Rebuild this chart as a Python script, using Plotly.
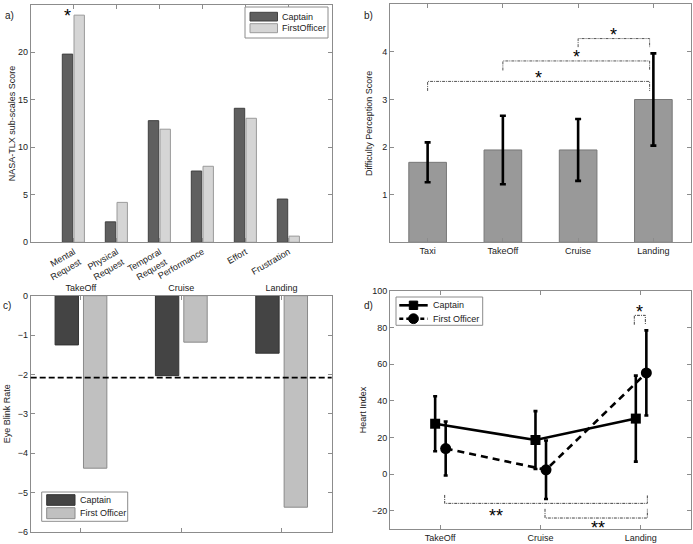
import plotly.graph_objects as go

W, H = 693, 544

# ---------------- data ----------------
series_names_a = ["Captain", "FirstOfficer"]
series_names = ["Captain", "First Officer"]

# a) NASA-TLX sub-scales
tlx_labels = ["Mental<br>Request", "Physical<br>Request", "Temporal<br>Request",
              "Performance", "Effort", "Frustration"]
tlx_captain = [19.8, 2.15, 12.8, 7.5, 14.1, 4.55]
tlx_fo = [23.9, 4.2, 11.9, 8.0, 13.05, 0.65]
tlx_star_level = 24.15

# b) Difficulty perception
phases_b = ["Taxi", "TakeOff", "Cruise", "Landing"]
difficulty_mean = [1.68, 1.94, 1.94, 3.0]
difficulty_sd = [0.42, 0.72, 0.65, 0.97]
# (from, to, bracket level, tip level, label)
b_sig = [("Taxi", "Landing", 3.38, 3.18, "*"),
         ("TakeOff", "Landing", 3.81, 3.61, "*"),
         ("Cruise", "Landing", 4.28, 4.10, "*")]

# c) Eye blink rate
phases = ["TakeOff", "Cruise", "Landing"]
blink_captain = [-1.25, -2.03, -1.46]
blink_fo = [-4.38, -1.18, -5.37]
blink_threshold = -2.08

# d) Heart index
heart_captain = [27.5, 18.6, 30.3]
heart_captain_err = [15.0, 15.8, 23.5]
heart_fo = [13.95, 2.35, 55.25]
heart_fo_err = [14.75, 15.95, 23.25]
# (from, to, bracket level, tip level, label, label x, label y)
d_sig = [("TakeOff", "Landing", -16, -11.4, "**", 1.56, -21),
         ("Cruise", "Landing", -24, -19, "**", 2.57, -27.3),
         ("Landing", "Landing", 86.7, 81.6, "*", 2.99, 90.3)]

# ---------------- style ----------------
FONT = "Liberation Sans, Arial, Helvetica, sans-serif"
AX = "#8c8c8c"
TXT = "#222222"
CAP_A, FO_A = "#5f5f5f", "#d5d5d5"
CAP_A_EDGE, FO_A_EDGE = "#404040", "#9a9a9a"
CAP_C, FO_C = "#444444", "#c0c0c0"
CAP_C_EDGE, FO_C_EDGE = "#333333", "#8a8a8a"
SIG_DASH = "3px,1px,1px,1px"
STAR_FONT = dict(size=18, color="black", family=FONT)
STAR_CENTER_SHIFT = -15.5   # glyph centre of '*' relative to a bottom-anchored box


def px_x(v):
    return v / W


def px_y(v):
    return 1 - v / H


fig = go.Figure()
annotations = []
shapes = []

# ---- a) ----
xa = list(range(1, len(tlx_labels) + 1))
fig.add_trace(go.Bar(x=xa, y=tlx_captain, name=series_names_a[0], offset=-0.265, width=0.242,
                     marker=dict(color=CAP_A, line=dict(color=CAP_A_EDGE, width=1)),
                     xaxis="x", yaxis="y", showlegend=False))
fig.add_trace(go.Bar(x=xa, y=tlx_fo, name=series_names_a[1], offset=0.007, width=0.242,
                     marker=dict(color=FO_A, line=dict(color=FO_A_EDGE, width=1)),
                     xaxis="x", yaxis="y", showlegend=False))
annotations.append(dict(x=1 - 0.144, y=tlx_star_level, xref="x", yref="y", text="*",
                        showarrow=False, yanchor="bottom", yshift=STAR_CENTER_SHIFT,
                        font=STAR_FONT))

# ---- b) ----
xb = list(range(1, len(phases_b) + 1))
fig.add_trace(go.Bar(x=xb, y=difficulty_mean, width=0.5, showlegend=False,
                     marker=dict(color="#999999", line=dict(color="#777777", width=1)),
                     error_y=dict(type="data", array=difficulty_sd, color="black",
                                  thickness=2.6, width=3),
                     xaxis="x2", yaxis="y2"))
for f, t, lvl, tip, lab in b_sig:
    x1 = phases_b.index(f) + 1
    x2 = phases_b.index(t) + 1 - 0.05
    fig.add_trace(go.Scatter(x=[x1, x1, x2, x2], y=[tip, lvl, lvl, tip], mode="lines",
                             line=dict(color="#555555", width=1, dash=SIG_DASH),
                             showlegend=False, hoverinfo="skip", xaxis="x2", yaxis="y2"))
    annotations.append(dict(x=(x1 + x2) / 2, y=lvl, xref="x2", yref="y2", text=lab,
                            showarrow=False, yanchor="bottom", yshift=STAR_CENTER_SHIFT + 7,
                            font=STAR_FONT))

# ---- c) ----
xc = list(range(1, len(phases) + 1))
fig.add_trace(go.Bar(x=xc, y=blink_captain, name=series_names[0], offset=-0.257, width=0.233,
                     marker=dict(color=CAP_C, line=dict(color=CAP_C_EDGE, width=1)),
                     xaxis="x3", yaxis="y3", showlegend=False))
fig.add_trace(go.Bar(x=xc, y=blink_fo, name=series_names[1], offset=0.026, width=0.233,
                     marker=dict(color=FO_C, line=dict(color=FO_C_EDGE, width=1)),
                     xaxis="x3", yaxis="y3", showlegend=False))
shapes.append(dict(type="line", xref="x3 domain", yref="y3", x0=0, x1=1,
                   y0=blink_threshold, y1=blink_threshold,
                   line=dict(color="black", width=1.8, dash="6px,3px")))

# ---- d) ----
xd = list(range(1, len(phases) + 1))
fig.add_trace(go.Scatter(x=[v - 0.05 for v in xd], y=heart_captain, name=series_names[0],
                         mode="lines+markers",
                         line=dict(color="black", width=2.6),
                         marker=dict(symbol="square", size=10, color="black"),
                         error_y=dict(type="data", array=heart_captain_err, color="black",
                                      thickness=2.6, width=2),
                         xaxis="x4", yaxis="y4", showlegend=False))
fig.add_trace(go.Scatter(x=[v + 0.055 for v in xd], y=heart_fo, name=series_names[1],
                         mode="lines+markers",
                         line=dict(color="black", width=2.6, dash="7px,5px"),
                         marker=dict(symbol="circle", size=11, color="black"),
                         error_y=dict(type="data", array=heart_fo_err, color="black",
                                      thickness=2.6, width=2),
                         xaxis="x4", yaxis="y4", showlegend=False))
for f, t, lvl, tip, lab, sx, sy in d_sig:
    if f == t:
        x1 = phases.index(f) + 1 - 0.065
        x2 = phases.index(t) + 1 + 0.045
    else:
        x1 = phases.index(f) + 1 + 0.045
        x2 = phases.index(t) + 1 + 0.065
    fig.add_trace(go.Scatter(x=[x1, x1, x2, x2], y=[tip, lvl, lvl, tip], mode="lines",
                             line=dict(color="#444444", width=1, dash=SIG_DASH),
                             showlegend=False, hoverinfo="skip", xaxis="x4", yaxis="y4"))
    annotations.append(dict(x=sx, y=sy, xref="x4", yref="y4", text=lab, showarrow=False,
                            yanchor="bottom", yshift=STAR_CENTER_SHIFT, font=STAR_FONT))

# panel letters
for lab, xp, yp in [("a)", 3, 15), ("b)", 362, 15), ("c)", 1, 305), ("d)", 362, 305)]:
    annotations.append(dict(x=px_x(xp), y=px_y(yp), xref="paper", yref="paper", text=lab,
                            showarrow=False, xanchor="left", yanchor="middle",
                            font=dict(size=10, color=TXT, family=FONT)))


# ---- legends (drawn as boxes, swatches and text, in pixels of the page) ----
def legend_box(x0, y0, x1, y1):
    shapes.append(dict(type="rect", xref="paper", yref="paper",
                       x0=px_x(x0), x1=px_x(x1), y0=px_y(y1), y1=px_y(y0),
                       fillcolor="white", line=dict(color=AX, width=1), layer="above"))


def legend_text(x, y, text):
    annotations.append(dict(x=px_x(x), y=px_y(y), xref="paper", yref="paper", text=text,
                            showarrow=False, xanchor="left", yanchor="middle",
                            font=dict(size=9, color=TXT, family=FONT)))


def legend_swatch(x0, y0, x1, y1, fill, edge):
    shapes.append(dict(type="rect", xref="paper", yref="paper",
                       x0=px_x(x0), x1=px_x(x1), y0=px_y(y1), y1=px_y(y0),
                       fillcolor=fill, line=dict(color=edge, width=1), layer="above"))


# legend a
legend_box(245, 7, 328, 38)
legend_swatch(250, 12.3, 277.5, 21, CAP_A, CAP_A_EDGE)
legend_swatch(250, 23.7, 277.5, 32.7, FO_A, FO_A_EDGE)
legend_text(279.5, 16.8, series_names_a[0])
legend_text(279.5, 28.4, series_names_a[1])

# legend c
legend_box(41.7, 492, 127.7, 521.3)
legend_swatch(46.7, 494.7, 75, 505.3, CAP_C, CAP_C_EDGE)
legend_swatch(46.7, 507.7, 75, 518.7, FO_C, FO_C_EDGE)
legend_text(78.3, 500.3, series_names[0])
legend_text(78.3, 512.9, series_names[1])

# legend d
legend_box(396, 297, 482.7, 325.3)
for row_y, dash, symbol in [(305.3, "solid", "square"), (318.7, "4px,3px", "circle")]:
    shapes.append(dict(type="line", xref="paper", yref="paper",
                       x0=px_x(399.3), x1=px_x(427.7), y0=px_y(row_y), y1=px_y(row_y),
                       line=dict(color="black", width=2.6, dash=dash), layer="above"))
    half = 4.2 if symbol == "square" else 4.9
    shapes.append(dict(type="rect" if symbol == "square" else "circle",
                       xref="paper", yref="paper",
                       x0=px_x(413.5 - half), x1=px_x(413.5 + half),
                       y0=px_y(row_y + half), y1=px_y(row_y - half),
                       fillcolor="black", line=dict(color="black", width=1), layer="above"))
legend_text(431, 305.3, series_names[0])
legend_text(431, 318.9, series_names[1])


def axis(domain, **kw):
    d = dict(domain=domain, showline=True, linecolor=AX, linewidth=1, mirror="ticks",
             ticks="inside", ticklen=4, tickcolor=AX, showgrid=False, zeroline=False,
             automargin=False, tickfont=dict(size=9, color=TXT, family=FONT))
    d.update(kw)
    return d


xa_dom = [px_x(30.7), px_x(331.7)]
xb_dom = [px_x(390), px_x(691)]
ya_dom = [px_y(242.3), px_y(4.7)]
yb_dom = [px_y(242.3), px_y(4.3)]
yc_dom = [px_y(532), px_y(295.7)]
yd_dom = [px_y(529), px_y(291)]

title_font = dict(size=9, color=TXT, family=FONT)

fig.update_layout(
    template="none",
    width=W, height=H, margin=dict(l=0, r=0, t=0, b=0, pad=0),
    paper_bgcolor="white", plot_bgcolor="white", showlegend=False,
    barmode="overlay", font=dict(family=FONT, size=9, color=TXT),
    xaxis=axis(xa_dom, anchor="y", range=[0, 7], tickvals=xa, ticktext=tlx_labels,
               tickangle=-30),
    yaxis=axis(ya_dom, anchor="x", range=[0, 25], tickvals=[0, 5, 10, 15, 20, 25],
               title=dict(text="NASA-TLX sub-scales Score", font=title_font, standoff=0)),
    xaxis2=axis(xb_dom, anchor="y2", range=[0.5, 4.5], tickvals=xb, ticktext=phases_b),
    yaxis2=axis(yb_dom, anchor="x2", range=[0, 5], tickvals=[1, 2, 3, 4, 5],
                title=dict(text="Difficulty Perception Score", font=title_font, standoff=8)),
    xaxis3=axis(xa_dom, anchor="y3", range=[0.5, 3.5], tickvals=xc, ticktext=phases,
                side="top"),
    yaxis3=axis(yc_dom, anchor="x3", range=[-6, 0], tickvals=[-6, -5, -4, -3, -2, -1, 0],
                title=dict(text="Eye Blink Rate", font=title_font, standoff=5)),
    xaxis4=axis(xb_dom, anchor="y4", range=[0.5, 3.5], tickvals=xd, ticktext=phases),
    yaxis4=axis(yd_dom, anchor="x4", range=[-30, 100],
                tickvals=[-20, 0, 20, 40, 60, 80, 100],
                title=dict(text="Heart Index", font=title_font, standoff=3)),
    annotations=annotations, shapes=shapes,
)

fig.write_html("out.html", config={"displayModeBar": False},
               post_script="document.body.style.margin='0';"
                           "document.body.style.overflow='hidden';")
